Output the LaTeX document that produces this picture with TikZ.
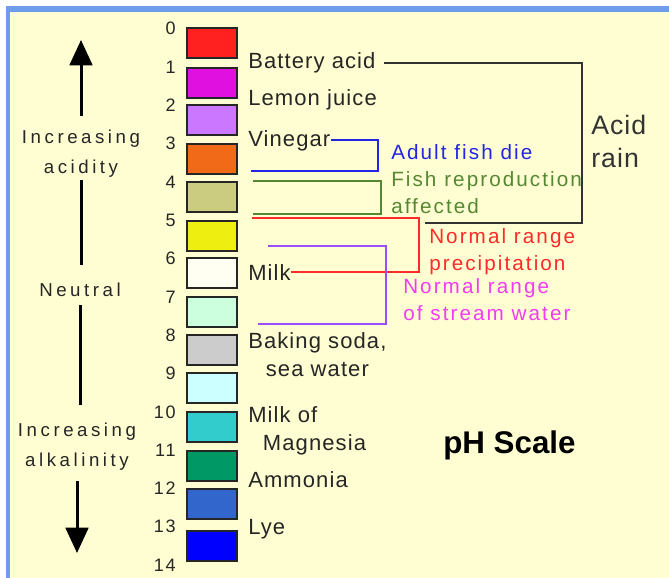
\documentclass[tikz,border=0pt]{standalone}
\usepackage{fontspec}
\setmainfont{Liberation Sans}
\usetikzlibrary{arrows.meta,positioning,calc}

\definecolor{paper}{HTML}{FEFED2}
\definecolor{frameblue}{HTML}{6F9DEB}
\definecolor{diecol}{HTML}{2424E6}
\definecolor{repcol}{HTML}{558833}
\definecolor{preccol}{HTML}{FF2A2A}
\definecolor{streamcol}{HTML}{9B4DFF}
\definecolor{streamtxt}{HTML}{F23CF2}
\definecolor{phred}{HTML}{FF2020}
\definecolor{phmag}{HTML}{E010E0}
\definecolor{phlilac}{HTML}{CC77FF}
\definecolor{phorange}{HTML}{F06A18}
\definecolor{pholive}{HTML}{CCCC80}
\definecolor{phyellow}{HTML}{EEEE10}
\definecolor{phwhite}{HTML}{FFFFF2}
\definecolor{phmint}{HTML}{CCFFDD}
\definecolor{phgray}{HTML}{CCCCCC}
\definecolor{phice}{HTML}{CCFFFF}
\definecolor{phteal}{HTML}{33CCCC}
\definecolor{phgreen}{HTML}{009966}
\definecolor{phsteel}{HTML}{3366CC}
\definecolor{phblue}{HTML}{0000FF}

\begin{document}
\begin{tikzpicture}[x=0.75pt, y=-0.75pt,
    phbox/.style={draw=black!85, line width=1.5pt, minimum width=37.5pt,
                  minimum height=22.5pt, inner sep=0pt},
    num/.style={anchor=base east, inner sep=0pt, text=black!85,
                font=\fontsize{13.5}{16}\selectfont\addfontfeature{LetterSpace=10}},
    item/.style={anchor=base west, inner sep=0pt, text=black!85,
                 font=\fontsize{16.5}{21}\selectfont\addfontfeature{LetterSpace=5}},
    note/.style={anchor=north west, inner sep=0pt, align=left,
                 font=\fontsize{15.5}{20.5}\selectfont\addfontfeature{LetterSpace=10}},
    side/.style={anchor=north, inner sep=0pt, align=center, text=black!85,
                 font=\fontsize{14}{22}\selectfont\addfontfeature{LetterSpace=19}},
    bigarr/.style={line width=2.25pt, -{Triangle[length=19pt,width=17pt]}},
    shaft/.style={line width=2.25pt},
    rainline/.style={draw=black!80, line width=1.5pt},
    dieline/.style={draw=diecol, line width=1.5pt},
    repline/.style={draw=repcol, line width=1.5pt},
    precline/.style={draw=preccol, line width=1.5pt},
    streamline/.style={draw=streamcol, line width=1.5pt}]
  \useasboundingbox (0,0) rectangle (669,578);
  \fill[white] (0,0) rectangle (669,578);
  \fill[paper] (10,12) rectangle (669,578);
  \fill[frameblue] (6,6) rectangle (669,12);
  \fill[frameblue] (6,6) rectangle (10,578);

  % colour column
  \foreach \c/\y [count=\i from 0] in {phred/43, phmag/82.5, phlilac/120,
      phorange/159, pholive/197, phyellow/236, phwhite/273, phmint/312,
      phgray/350, phice/388, phteal/427, phgreen/466, phsteel/503.5, phblue/546}
    \node[phbox, fill=\c] (ph\i) at (212,\y) {};
  \foreach \n in {0,...,14}
    \node[num] (n\n) at (176,{35+38.3*\n}) {\n};

  % substances
  \node[item] (bat) at (248,69) {Battery acid};
  \node[item] (lemon) at (248,105) {Lemon juice};
  \node[item] (vin) at (248,146) {Vinegar};
  \node[item] (milk) at (248,280) {Milk};
  \node[item, anchor=north west, align=center] (soda) at (248,332) {Baking soda,\\sea water};
  \node[item, anchor=north west, align=left] (magn) at (248,406) {Milk of\\\hspace*{11pt}Magnesia};
  \node[item] (amm) at (248,487) {Ammonia};
  \node[item] (lye) at (248,534) {Lye};

  % effects
  \node[note, text=diecol, anchor=base west] (die) at (391,159) {Adult fish die};
  \node[note, text=repcol] (rep) at (391,171) {Fish reproduction\\affected};
  \node[note, text=preccol] (prec) at (429,228) {Normal range\\precipitation};
  \node[note, text=streamtxt] (stream) at (403,278) {Normal range\\of stream water};
  \node[note, text=black!80, font=\fontsize{20}{24.75}\selectfont\addfontfeature{LetterSpace=4}]
    (rain) at (591,115) {Acid\\rain};
  \node[anchor=base west, inner sep=0pt, font=\bfseries\fontsize{23.5}{28}\selectfont]
    (title) at (443,453) {pH Scale};

  % direction
  \node[side] (acid) at (81,130) {Increasing\\acidity};
  \node[side] (neut) at (80,283) {Neutral};
  \node[side] (alk) at (77,423) {Increasing\\alkalinity};
  \coordinate (uptip) at (81,40);
  \coordinate (downtip) at (77,553);
  \draw[bigarr, shorten <=10.8pt] (acid.north) -- (uptip);
  \draw[shaft, shorten <=2.25pt, shorten >=13.8pt] (acid.south) -- (acid.south |- neut.north);
  \draw[shaft, shorten <=6pt, shorten >=13.8pt] (neut.south) -- (neut.south |- alk.north);
  \draw[bigarr, shorten <=8.25pt] (alk.south) -- (downtip);

  % brackets
  \coordinate (rainB) at (582,223);
  \coordinate (rainC) at (425,223);
  \draw[rainline, shorten <=6pt] (bat.east) -| (rainB) -- (rainC);
  \coordinate (dieB) at (378,171);
  \coordinate (dieC) at (251,171);
  \draw[dieline] (vin.east) -| (dieB) -- (dieC);
  \coordinate (repA) at (253,181);
  \coordinate (repB) at (381,214);
  \coordinate (repC) at (253,214);
  \draw[repline] (repA) -| (repB) -- (repC);
  \coordinate (precA) at (252,218);
  \coordinate (precB) at (419,270);
  \draw[precline] (precA) -| (milk.east -| precB) -- (milk.east);
  \coordinate (strA) at (268,246);
  \coordinate (strB) at (386,324);
  \coordinate (strC) at (258,324);
  \draw[streamline] (strA) -| (strB) -- (strC);
\end{tikzpicture}
\end{document}
